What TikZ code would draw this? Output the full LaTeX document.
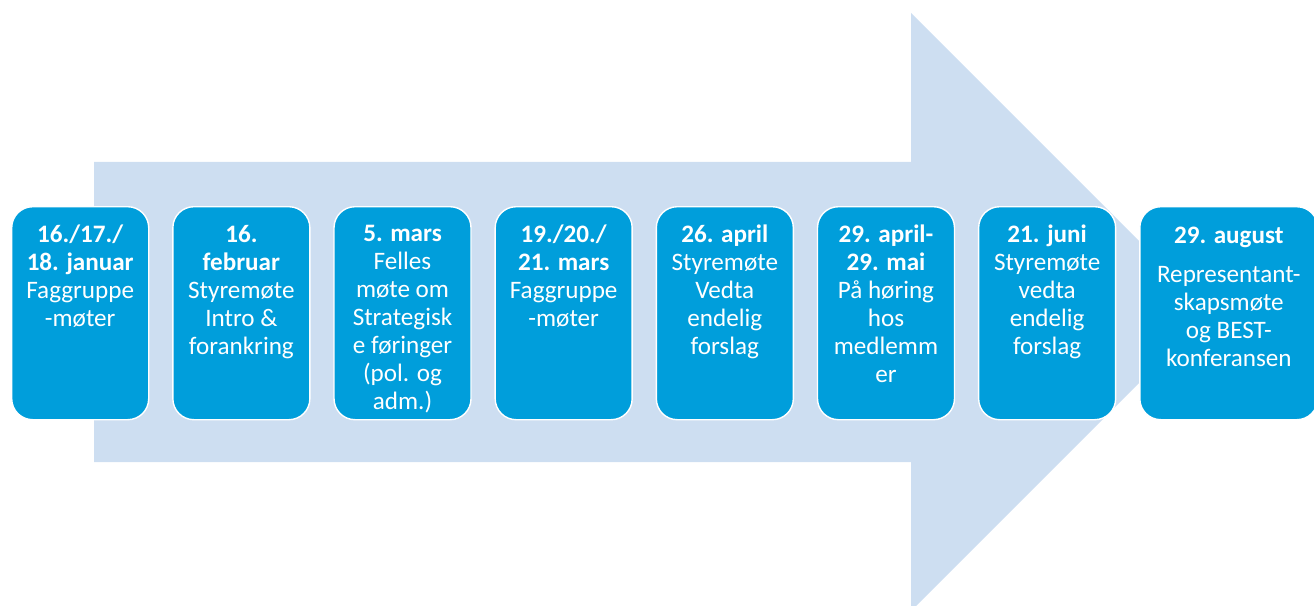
\documentclass[tikz,border=0pt]{standalone}
\usepackage{fontspec}
\setmainfont{Carlito}
\usetikzlibrary{positioning}
\definecolor{pilBlaa}{HTML}{CDDEF1}
\definecolor{boksBlaa}{HTML}{009EDB}

\begin{document}
\begin{tikzpicture}[
  boks/.style={draw=white,line width=0.8pt,fill=boksBlaa,rounded corners=0.42cm,
    minimum width=2.74cm,minimum height=4.26cm,inner sep=0pt,anchor=north west},
  tekst/.style={anchor=north,text=white,align=center,inner sep=0pt,
    font=\fontsize{14.3}{15.9}\selectfont},
  node distance=0.455cm]
  \useasboundingbox (0,0) rectangle (26.28,-12.1);
  \fill[pilBlaa] (1.88,-3.24) -- (18.22,-3.24) -- (18.22,-0.26) -- (24.2,-6.24)
    -- (18.22,-12.22) -- (18.22,-9.24) -- (1.88,-9.24) -- cycle;
  \node[boks] (b1) at (0.22,-4.12) {};
  \node[boks,right=of b1] (b2) {};
  \node[boks,right=of b2] (b3) {};
  \node[boks,right=of b3] (b4) {};
  \node[boks,right=of b4] (b5) {};
  \node[boks,right=of b5] (b6) {};
  \node[boks,right=of b6] (b7) {};
  \node[boks,right=of b7,minimum width=3.56cm] (b8) {};
  \node[tekst] (t1) at ([yshift=-0.38cm]b1.north)
    {\textbf{16./17./}\\\textbf{18. januar}\\Faggruppe\\-møter};
  \node[tekst] (t2) at ([yshift=-0.38cm]b2.north)
    {\textbf{16.}\\\textbf{februar}\\Styremøte\\Intro \&\\forankring};
  \node[tekst] (t3) at ([yshift=-0.38cm]b3.north)
    {\textbf{5. mars}\\Felles\\møte om\\Strategisk\\e føringer\\(pol. og\\adm.)};
  \node[tekst] (t4) at ([yshift=-0.38cm]b4.north)
    {\textbf{19./20./}\\\textbf{21. mars}\\Faggruppe\\-møter};
  \node[tekst] (t5) at ([yshift=-0.38cm]b5.north)
    {\textbf{26. april}\\Styremøte\\Vedta\\endelig\\forslag};
  \node[tekst] (t6) at ([yshift=-0.38cm]b6.north)
    {\textbf{29. april-}\\\textbf{29. mai}\\På høring\\hos\\medlemm\\er};
  \node[tekst] (t7) at ([yshift=-0.38cm]b7.north)
    {\textbf{21. juni}\\Styremøte\\vedta\\endelig\\forslag};
  \node[tekst] (t8) at ([yshift=-0.42cm]b8.north)
    {\textbf{29. august}\\[0.22cm]Representant-\\skapsmøte\\og BEST-\\konferansen};
\end{tikzpicture}
\end{document}
